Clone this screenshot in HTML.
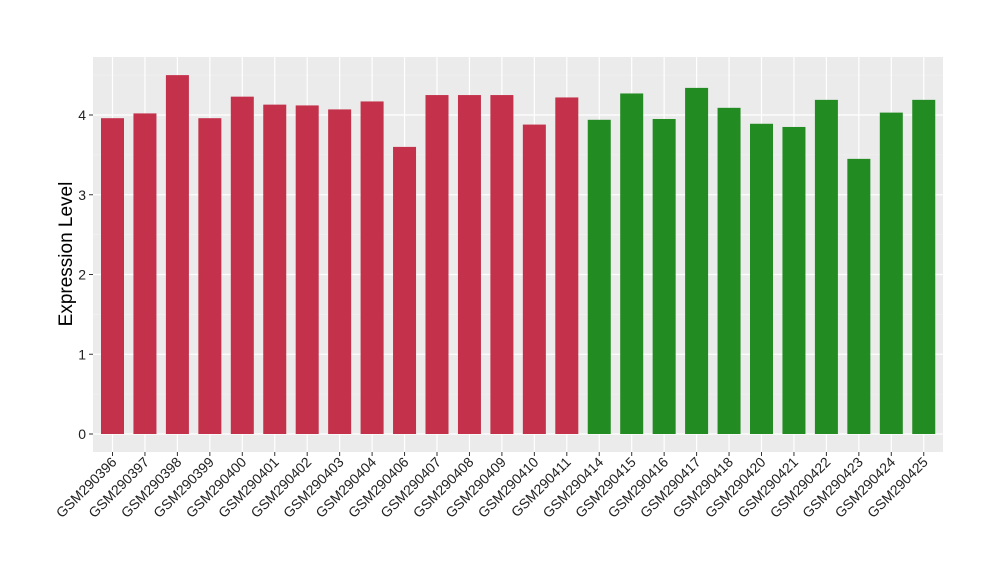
<!DOCTYPE html>
<html><head><meta charset="utf-8"><style>body{margin:0;background:#fff}svg{display:block}text{font-family:"Liberation Sans",sans-serif}</style></head>
<body>
<svg id="chart" width="1000" height="580" xmlns="http://www.w3.org/2000/svg">
<rect x="93" y="57" width="850" height="395" fill="#ebebeb"/>
<g id="grid"></g><g id="bars"></g><g id="axes"></g>
<text transform="translate(72,254) rotate(-90)" text-anchor="middle" font-size="19" fill="#000">Expression Level</text>
</svg>
<script>
const categories=["GSM290396","GSM290397","GSM290398","GSM290399","GSM290400","GSM290401","GSM290402","GSM290403","GSM290404","GSM290406","GSM290407","GSM290408","GSM290409","GSM290410","GSM290411","GSM290414","GSM290415","GSM290416","GSM290417","GSM290418","GSM290420","GSM290421","GSM290422","GSM290423","GSM290424","GSM290425"];
const values=[3.96,4.02,4.50,3.96,4.23,4.13,4.12,4.07,4.17,3.60,4.25,4.25,4.25,3.88,4.22,3.94,4.27,3.95,4.34,4.09,3.89,3.85,4.19,3.45,4.03,4.19];
const groups=["a","a","a","a","a","a","a","a","a","a","a","a","a","a","a","b","b","b","b","b","b","b","b","b","b","b"];
const yTicks=[0,1,2,3,4];
const NS="http://www.w3.org/2000/svg";
const y=v=>434-v*79.75;
const x=i=>112.5+i*32.45;
function mk(tag,attrs,parent){const e=document.createElementNS(NS,tag);for(const k in attrs)e.setAttribute(k,attrs[k]);parent.appendChild(e);return e;}
const grid=document.getElementById('grid'),bars=document.getElementById('bars'),axes=document.getElementById('axes');
for(let v=0.5;v<4.7;v+=1){const l=mk('line',{x1:93,x2:943,y1:y(v),y2:y(v),stroke:'#f5f5f5','stroke-width':0.6},grid);

}
yTicks.forEach(t=>{const l=mk('line',{x1:93,x2:943,y1:y(t),y2:y(t),stroke:'#fff','stroke-width':1.2},grid);


const tk=mk('line',{x1:89,x2:93,y1:y(t),y2:y(t),stroke:'#333'},axes);


const tx=mk('text',{x:86,y:y(t)+5,'text-anchor':'end','font-size':14,fill:'#222'},axes);tx.textContent=t;

});
categories.forEach((c,i)=>{const g=mk('line',{x1:x(i),x2:x(i),y1:57,y2:452,stroke:'#fff','stroke-width':1.2},grid);


const r=mk('rect',{x:x(i)-11.5,y:y(values[i]),width:23,height:434-y(values[i]),fill:groups[i]==='a'?'#c3314a':'#228b22'},bars);


const tk=mk('line',{x1:x(i),x2:x(i),y1:452,y2:456,stroke:'#333'},axes);


const tx=mk('text',{transform:`translate(${x(i)+5},463) rotate(-45)`,'text-anchor':'end','font-size':14,fill:'#222'},axes);tx.textContent=c;

});
</script>
</body></html>
